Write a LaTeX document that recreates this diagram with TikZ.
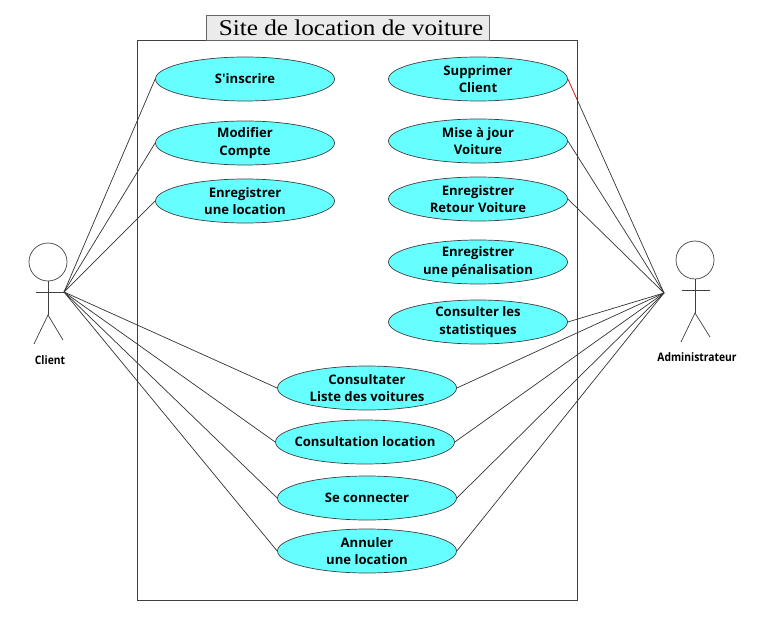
\documentclass[tikz,border=0pt]{standalone}
\usepackage{fontspec}
\setmainfont{Liberation Serif}
\newfontfamily\usecasefont{Open Sans}
\newfontfamily\actorfont[FakeStretch=0.88]{Open Sans}
\newfontfamily\titlefont[FakeStretch=1.12]{Liberation Serif}
\definecolor{casecyan}{HTML}{66FFFF}
\usetikzlibrary{shapes.geometric,positioning}
\begin{document}
\begin{tikzpicture}[auto, line width=0.6pt]
  \tikzstyle{usecase} = [ellipse, draw=black!75, fill=casecyan, minimum width=5.37cm, minimum height=1.32cm, inner sep=0pt, align=center, font=\usecasefont\bfseries\fontsize{11.2}{15.2}\selectfont]
  \tikzstyle{system} = [rectangle, draw=black!75, minimum width=13.2cm, minimum height=16.8cm, inner sep=0pt]
  \tikzstyle{titlebox} = [rectangle, draw=black!60, fill=black!8, minimum width=8.49cm, minimum height=0.75cm, inner sep=0pt, font=\titlefont\fontsize{19.2}{22}\selectfont]
  \tikzstyle{actorhead} = [circle, draw=black!75, minimum size=1.14cm, inner sep=0pt]
  \tikzstyle{actorname} = [font=\actorfont\bfseries\fontsize{10}{12}\selectfont]
  \tikzstyle{line} = [draw, black!80]

  \useasboundingbox (0,0) rectangle (22.8,-19.23);

  \node [system] (site) at (10.71,-9.6) {};
  \node [titlebox] (title) at (10.44,-0.825) {\hspace*{0.18cm}Site de location de voiture};

  % left column
  \node [usecase] (inscrire) at (7.35,-2.37) {S'inscrire};
  \node [usecase, below of=inscrire, node distance=1.92cm] (modifier) {Modifier\\Compte};
  \node [usecase, below of=modifier, node distance=1.74cm] (location) {Enregistrer\\une location};

  % right column
  \node [usecase, right of=inscrire, node distance=6.99cm] (supprimer) {Supprimer\\Client};
  \node [usecase, below of=supprimer, node distance=1.86cm] (voiture) {Mise à jour\\Voiture};
  \node [usecase, below of=voiture, node distance=1.74cm] (retour) {Enregistrer\\Retour Voiture};
  \node [usecase, below of=retour, node distance=1.89cm] (penalite) {Enregistrer\\une pénalisation};
  \node [usecase, below of=penalite, node distance=1.8cm] (stats) {Consulter les\\statistiques};

  % shared use cases
  \node [usecase] (liste) at (11.01,-11.64) {Consultater\\Liste des voitures};
  \node [usecase, below of=liste, node distance=1.62cm, xshift=-0.06cm] (consultation) {\makebox[3cm]{Consultation location}};
  \node [usecase, below of=consultation, node distance=1.68cm, xshift=0.06cm] (connecter) {Se connecter};
  \node [usecase, below of=connecter, node distance=1.59cm] (annuler) {Annuler\\une location};

  % client
  \node [actorhead] (clienthead) at (1.44,-7.86) {};
  \coordinate (clienthip) at (1.44,-9.45);
  \coordinate (clientleft) at (1.08,-8.76);
  \coordinate (clienthand) at (1.92,-8.76);
  \coordinate (clientfootl) at (1.02,-10.32);
  \coordinate (clientfootr) at (1.89,-10.2);
  \node [actorname] (clientname) at (1.5,-10.8) {Client};
  \draw [black!75] (clienthead.south) -- (clienthip);
  \draw [black!75] (clientleft) -- (clienthand);
  \draw [black!75] (clientfootl) -- (clienthip) -- (clientfootr);

  % administrateur
  \node [actorhead] (adminhead) at (20.85,-7.8) {};
  \coordinate (adminhip) at (20.85,-9.39);
  \coordinate (adminleft) at (20.46,-8.7);
  \coordinate (adminright) at (21.3,-8.7);
  \coordinate (adminhand) at (19.92,-8.79);
  \coordinate (adminfootl) at (20.43,-10.26);
  \coordinate (adminfootr) at (21.3,-10.11);
  \node [actorname] (adminname) at (20.91,-10.71) {Administrateur};
  \draw [black!75] (adminhead.south) -- (adminhip);
  \draw [black!75] (adminleft) -- (adminright);
  \draw [black!75] (adminfootl) -- (adminhip) -- (adminfootr);

  \foreach \usecase in {inscrire, modifier, location, liste, consultation, connecter, annuler}
    \path [line] (clienthand) -- (\usecase.west);
  \foreach \usecase in {voiture, retour, stats, liste, consultation, connecter, annuler}
    \path [line] (adminhand) -- (\usecase.east);

  \path (supprimer.east) -- coordinate[pos=0.094] (crossing) (adminhand);
  \path [line] (adminhand) -- (crossing);
  \draw [red!80!black] (crossing) -- (supprimer.east);
\end{tikzpicture}
\end{document}
